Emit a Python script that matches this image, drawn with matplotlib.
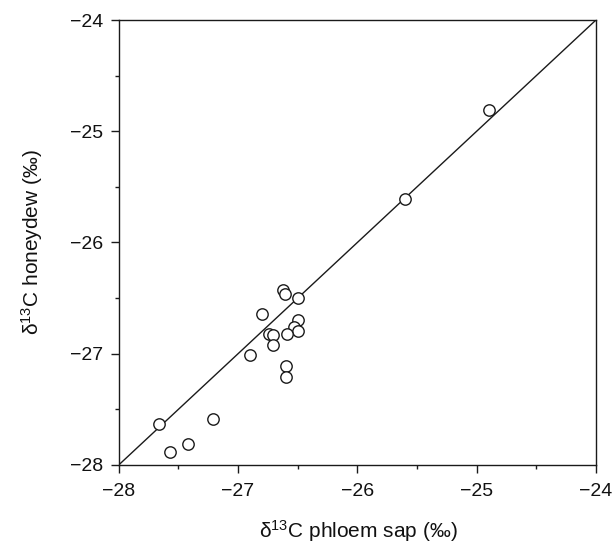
import matplotlib
matplotlib.use("Agg")
import matplotlib.pyplot as plt
from matplotlib.ticker import MultipleLocator

plt.rcParams['font.family'] = ['Liberation Sans', 'DejaVu Sans']
plt.rcParams['mathtext.fontset'] = 'custom'
plt.rcParams['mathtext.rm'] = 'Liberation Sans'
plt.rcParams['mathtext.it'] = 'Liberation Sans:italic'

# data: delta13C phloem sap (x) vs honeydew (y)
phloem = [-27.66, -27.57, -27.42, -27.21, -26.90,
          -26.62, -26.61, -26.50, -26.80, -26.50, -26.53, -26.50,
          -26.59, -26.74, -26.71, -26.71, -26.60, -26.60,
          -25.60, -24.90]
honeydew = [-27.63, -27.88, -27.81, -27.59, -27.01,
            -26.43, -26.46, -26.50, -26.64, -26.70, -26.76, -26.80,
            -26.82, -26.82, -26.83, -26.92, -27.11, -27.21,
            -25.61, -24.81]
line_x = [-28, -24]
line_y = [-28, -24]

fig = plt.figure(figsize=(6.16, 5.45), dpi=100)
ax = fig.add_axes([0.1927, 0.1468, 0.9675 - 0.1927, 0.9633 - 0.1468])

col = '#1a1a1a'
ax.plot(line_x, line_y, color=col, lw=1.0)
ax.plot(phloem, honeydew, 'o', mfc='white', mec=col, mew=1.0, ms=8.2, ls='none')

ax.set_xlim(-28, -24)
ax.set_ylim(-28, -24)
ax.xaxis.set_major_locator(MultipleLocator(1))
ax.yaxis.set_major_locator(MultipleLocator(1))
ax.xaxis.set_minor_locator(MultipleLocator(0.5))
ax.yaxis.set_minor_locator(MultipleLocator(0.5))

for s in ax.spines.values():
    s.set_color(col)
    s.set_linewidth(1.0)

ax.tick_params(which='both', direction='out', top=False, right=False, colors=col, width=1.0)
ax.tick_params(which='major', length=5.5, labelsize=14, labelcolor='#111111')
ax.tick_params(which='minor', length=3)
ax.tick_params(axis='x', which='major', pad=7.5)
ax.tick_params(axis='y', which='major', pad=5.5)

ax.set_xlabel(r'δ$^{13}$C phloem sap (‰)', fontsize=15, color='#111111', va='center')
ax.set_ylabel(r'δ$^{13}$C honeydew (‰)', fontsize=15, color='#111111', va='center')
ax.xaxis.set_label_coords(0.5025, -0.149)
ax.yaxis.set_label_coords(-0.181, 0.5)

fig.savefig('out.png', dpi=100)
